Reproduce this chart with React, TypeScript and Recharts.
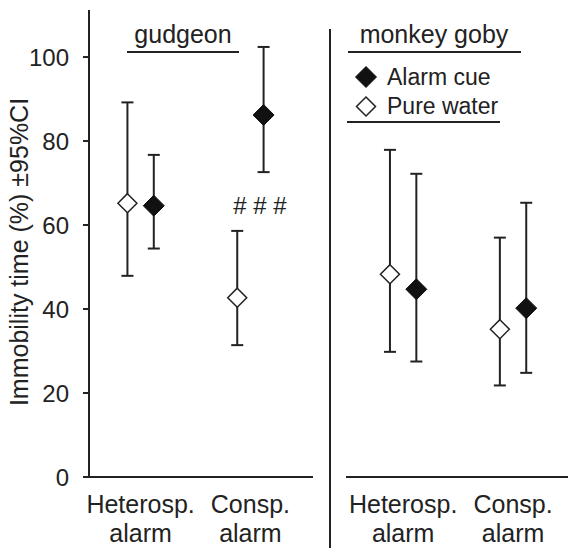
import {
  ComposedChart,
  Scatter,
  ErrorBar,
  XAxis,
  YAxis,
  Legend,
  Label,
  ReferenceDot,
} from "recharts";

const panels = ["gudgeon", "monkey goby"];
const categories = [
  ["Heterosp.", "alarm"],
  ["Consp.", "alarm"],
];
const seriesNames = ["Alarm cue", "Pure water"];
const yTicks = [0, 20, 40, 60, 80, 100];

// gudgeon
const gudgeonPureMean = [65.2, 42.7];
const gudgeonPureLow = [47.9, 31.4];
const gudgeonPureHigh = [89.2, 58.6];
const gudgeonAlarmMean = [64.6, 86.2];
const gudgeonAlarmLow = [54.4, 72.6];
const gudgeonAlarmHigh = [76.7, 102.4];

// monkey goby
const gobyPureMean = [48.3, 35.2];
const gobyPureLow = [29.8, 21.8];
const gobyPureHigh = [77.9, 57.0];
const gobyAlarmMean = [44.7, 40.2];
const gobyAlarmLow = [27.5, 24.8];
const gobyAlarmHigh = [72.2, 65.3];

const INK = "#222";
const FONT = '"Liberation Sans", Arial, Helvetica, sans-serif';
const SHIFT = 0.12; // pure water left, alarm cue right of the category

const rows = (mean: number[], low: number[], high: number[], shift: number) =>
  mean.map((m, i) => ({
    x: i + shift,
    y: m,
    err: [m - low[i], high[i] - m],
  }));

const Diamond = (props: any) => {
  const { cx, cy, filled } = props;
  if (cx == null || cy == null) return null;
  const r = filled ? 10.5 : 9.5;
  return (
    <polygon
      points={`${cx},${cy - r} ${cx + r},${cy} ${cx},${cy + r} ${cx - r},${cy}`}
      fill={filled ? "#111" : "#fff"}
      stroke={filled ? "#111" : INK}
      strokeWidth={filled ? 1 : 1.5}
    />
  );
};

const CatTick = (props: any) => {
  const { x, y, payload } = props;
  const lines = categories[Math.round(payload.value)] ?? [];
  return (
    <text x={x} y={y} textAnchor="middle" fontSize={25} fill={INK}>
      {lines.map((l, i) => (
        <tspan key={i} x={x} dy={i === 0 ? 28 : 28.5}>
          {l}
        </tspan>
      ))}
    </text>
  );
};

const YLabel = (props: any) => {
  const vb = props.viewBox || {};
  const x = (vb.x ?? 0) + 28;
  const y = (vb.y ?? 0) + (vb.height ?? 0) / 2 + 8.5;
  return (
    <text
      x={x}
      y={y}
      transform={`rotate(-90, ${x}, ${y})`}
      textAnchor="middle"
      fontSize={25}
      fill={INK}
    >
      Immobility time (%) ±95%CI
    </text>
  );
};

const LegendBox = () => (
  <svg width={160} height={66} style={{ display: "block" }}>
    {seriesNames.map((name, i) => (
      <g key={name}>
        <Diamond cx={19} cy={17 + i * 29.5} filled={i === 0} />
        <text x={40} y={25 + i * 28.5} fontSize={23} fill={INK}>
          {name}
        </text>
      </g>
    ))}
    <line x1={0} x2={153} y1={62} y2={62} stroke={INK} strokeWidth={2} />
  </svg>
);

type PanelProps = {
  width: number;
  left: number;
  xDomain: [number, number];
  pure: any[];
  alarm: any[];
  showY: boolean;
  children?: any;
};

const Panel = ({ width, left, xDomain, pure, alarm, showY, children }: PanelProps) => (
  <ComposedChart
    width={width}
    height={550}
    margin={{ top: 10, right: showY ? 17 : 0, bottom: 0, left: left }}
  >
    <XAxis
      type="number"
      dataKey="x"
      domain={xDomain}
      allowDataOverflow
      ticks={[0, 1]}
      tick={<CatTick />}
      tickLine={false}
      axisLine={{ stroke: INK, strokeWidth: 2 }}
      height={73}
    />
    <YAxis
      type="number"
      dataKey="y"
      domain={[0, 111.2]}
      allowDataOverflow
      ticks={yTicks}
      hide={!showY}
      width={89}
      tickSize={6}
      tickMargin={14}
      tick={{ fill: INK, fontSize: 24 }}
      tickLine={{ stroke: INK, strokeWidth: 2 }}
      axisLine={{ stroke: INK, strokeWidth: 2 }}
    >
      {showY && <Label content={<YLabel />} />}
    </YAxis>
    <Scatter
      name={seriesNames[1]}
      data={pure}
      dataKey="y"
      shape={(p: any) => <Diamond {...p} filled={false} />}
      isAnimationActive={false}
    >
      <ErrorBar dataKey="err" direction="y" width={6} stroke={INK} strokeWidth={2} />
    </Scatter>
    <Scatter
      name={seriesNames[0]}
      data={alarm}
      dataKey="y"
      shape={(p: any) => <Diamond {...p} filled />}
      isAnimationActive={false}
    >
      <ErrorBar dataKey="err" direction="y" width={6} stroke={INK} strokeWidth={2} />
    </Scatter>
    {children}
  </ComposedChart>
);

const Title = ({ text, cx, x1, x2 }: { text: string; cx: number; x1: number; x2: number }) => (
  <svg
    width={240}
    height={60}
    style={{ position: "absolute", left: 0, top: 0, overflow: "visible" }}
  >
    <text x={cx} y={43.3} textAnchor="middle" fontSize={25} fill={INK}>
      {text}
    </text>
    <line x1={x1} x2={x2} y1={52} y2={52} stroke={INK} strokeWidth={2} />
  </svg>
);

export default function App() {
  return (
    <div
      style={{
        position: "absolute",
        left: 0,
        top: 0,
        width: 568,
        height: 550,
        background: "#fff",
        fontFamily: FONT,
        overflow: "hidden",
      }}
    >
      <div style={{ position: "absolute", left: 0, top: 0 }}>
        <Panel
          width={330}
          left={0}
          showY
          xDomain={[-0.47, 1.57]}
          pure={rows(gudgeonPureMean, gudgeonPureLow, gudgeonPureHigh, -SHIFT)}
          alarm={rows(gudgeonAlarmMean, gudgeonAlarmLow, gudgeonAlarmHigh, SHIFT)}
        >
          <ReferenceDot
            x={1.087}
            y={64.6}
            r={0}
            fill="none"
            stroke="none"
            label={{ value: "# # #", position: "center", fontSize: 24, fill: INK }}
          />
        </Panel>
        <Title text={panels[0]} cx={183} x1={127} x2={239} />
      </div>
      <div
        style={{
          position: "absolute",
          left: 329,
          top: 29,
          width: 2,
          height: 519,
          background: INK,
        }}
      />
      <div style={{ position: "absolute", left: 330, top: 0 }}>
        <Panel
          width={238}
          left={16}
          showY={false}
          xDomain={[-0.52, 1.5]}
          pure={rows(gobyPureMean, gobyPureLow, gobyPureHigh, -SHIFT)}
          alarm={rows(gobyAlarmMean, gobyAlarmLow, gobyAlarmHigh, SHIFT)}
        >
          <Legend
            layout="vertical"
            align="center"
            verticalAlign="middle"
            content={<LegendBox />}
            wrapperStyle={{ left: 17, top: 60, width: 160, height: 66 }}
          />
        </Panel>
        <Title text={panels[1]} cx={104} x1={18} x2={191} />
      </div>
    </div>
  );
}
